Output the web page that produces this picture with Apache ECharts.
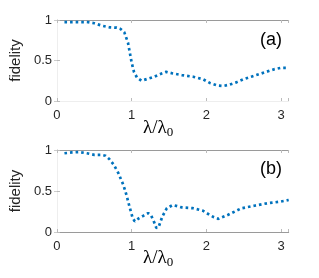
<!DOCTYPE html>
<html><head><meta charset="utf-8">
<script src="https://cdn.jsdelivr.net/npm/echarts@6/dist/echarts.min.js"></script>
<style>html,body{margin:0;padding:0;background:#fff}#c{width:319px;height:278px}</style>
</head><body><div id="c"></div>
<script>
var xTicks = [0, 1, 2, 3];
var yTicks = [0, 0.5, 1];
var seriesA = [[0.1,0.975],[0.2,0.975],[0.3,0.975],[0.4,0.975],[0.5,0.96],[0.6,0.93],[0.7,0.91],[0.8,0.905],[0.85,0.89],[0.9,0.85],[0.95,0.72],[1.0,0.47],[1.03,0.36],[1.07,0.29],[1.13,0.25],[1.2,0.27],[1.3,0.30],[1.4,0.34],[1.46,0.36],[1.55,0.34],[1.67,0.32],[1.82,0.30],[1.95,0.27],[2.05,0.22],[2.15,0.19],[2.22,0.185],[2.3,0.2],[2.4,0.23],[2.5,0.27],[2.6,0.30],[2.7,0.33],[2.8,0.36],[2.9,0.39],[3.0,0.41],[3.1,0.41]];
var seriesB = [[0.1,0.96],[0.2,0.97],[0.3,0.975],[0.4,0.96],[0.5,0.94],[0.6,0.94],[0.65,0.93],[0.7,0.89],[0.76,0.82],[0.82,0.72],[0.89,0.57],[0.93,0.45],[0.97,0.31],[1.01,0.18],[1.04,0.13],[1.1,0.17],[1.16,0.2],[1.22,0.23],[1.26,0.2],[1.3,0.12],[1.33,0.05],[1.36,0.06],[1.41,0.19],[1.47,0.29],[1.55,0.33],[1.67,0.3],[1.82,0.29],[1.95,0.26],[2.04,0.21],[2.1,0.18],[2.16,0.16],[2.29,0.21],[2.47,0.29],[2.64,0.32],[2.81,0.35],[2.99,0.37],[3.1,0.39]];
var panelLabels = ['(a)', '(b)'];

var chart = echarts.init(document.getElementById('c'));
var font = 'Liberation Sans, Arial, sans-serif';
var lineCol = '#9a9a9a';
var txtCol = '#262626';
function xAxisBottom(gi, lineColor){
  return {type:'value', gridIndex:gi, min:0, max:3.1, interval:1, position:'bottom',
    axisLine:{show:true, lineStyle:{color:lineColor}},
    axisTick:{show:true, inside:true, length:3, lineStyle:{color:'#bbb'}},
    axisLabel:{color:txtCol, fontFamily:font, fontSize:13, margin:8,
      formatter:function(v){return xTicks.indexOf(v)>=0?String(v):'';}},
    splitLine:{show:false}};
}
function xAxisTop(gi){
  return {type:'value', gridIndex:gi, min:0, max:3.1, interval:1, position:'top',
    axisLine:{show:true, onZero:false, lineStyle:{color:lineCol}},
    axisTick:{show:true, inside:true, length:3, lineStyle:{color:'#bbb'}},
    axisLabel:{show:false}, splitLine:{show:false}};
}
function yAxisLeft(gi){
  return {type:'value', gridIndex:gi, min:0, max:1, interval:0.5, position:'left',
    name:'fidelity', nameLocation:'middle', nameGap:25, nameRotate:90,
    nameTextStyle:{color:txtCol, fontFamily:font, fontSize:15},
    axisLine:{show:true, lineStyle:{color:lineCol}},
    axisTick:{show:true, inside:true, length:3, lineStyle:{color:'#bbb'}},
    axisLabel:{color:txtCol, fontFamily:font, fontSize:13, margin:5,
      formatter:function(v){return yTicks.indexOf(v)>=0?String(v):'';}},
    splitLine:{show:false}};
}
function yAxisRight(gi){
  return {type:'value', gridIndex:gi, min:0, max:1, interval:0.5, position:'right',
    axisLine:{show:true, lineStyle:{color:'#eeeeee'}},
    axisTick:{show:true, inside:true, length:3, lineStyle:{color:'#ccc'}},
    axisLabel:{show:false}, splitLine:{show:false}};
}
var dotStyle = {color:'#0072BD', width:2.7, type:[2.6,3.0], cap:'butt'};
var serif = '"Liberation Serif", "DejaVu Serif", serif';
var lamRich = {a:{font:'19px ' + serif, fill:'#000'}, s:{font:'13px ' + serif, verticalAlign:'bottom', padding:[8,0,0,0], fill:'#000'}};
chart.setOption({
  animation:false,
  grid:[{left:50, top:20, width:238.7, height:81},
        {left:50, top:150, width:238.7, height:82}],
  xAxis:[xAxisBottom(0,'#eeeeee'), xAxisTop(0), xAxisBottom(1,lineCol), xAxisTop(1)],
  yAxis:[yAxisLeft(0), yAxisRight(0), yAxisLeft(1), yAxisRight(1)],
  series:[
    {type:'line', xAxisIndex:0, yAxisIndex:0, data:seriesA, showSymbol:false, lineStyle:dotStyle, itemStyle:{color:'#0072BD'}},
    {type:'line', xAxisIndex:2, yAxisIndex:2, data:seriesB, showSymbol:false, lineStyle:dotStyle, itemStyle:{color:'#0072BD'}}
  ],
  graphic:[
    {type:'text', left:260, top:31, style:{text:panelLabels[0], font:'18px '+font, fill:'#000'}},
    {type:'text', left:260, top:160, style:{text:panelLabels[1], font:'18px '+font, fill:'#000'}},
    {type:'text', left:143, top:119, style:{text:'{a|λ/λ}{s|0}', rich:lamRich}},
    {type:'text', left:143, top:249, style:{text:'{a|λ/λ}{s|0}', rich:lamRich}}
  ]
});
</script></body></html>
